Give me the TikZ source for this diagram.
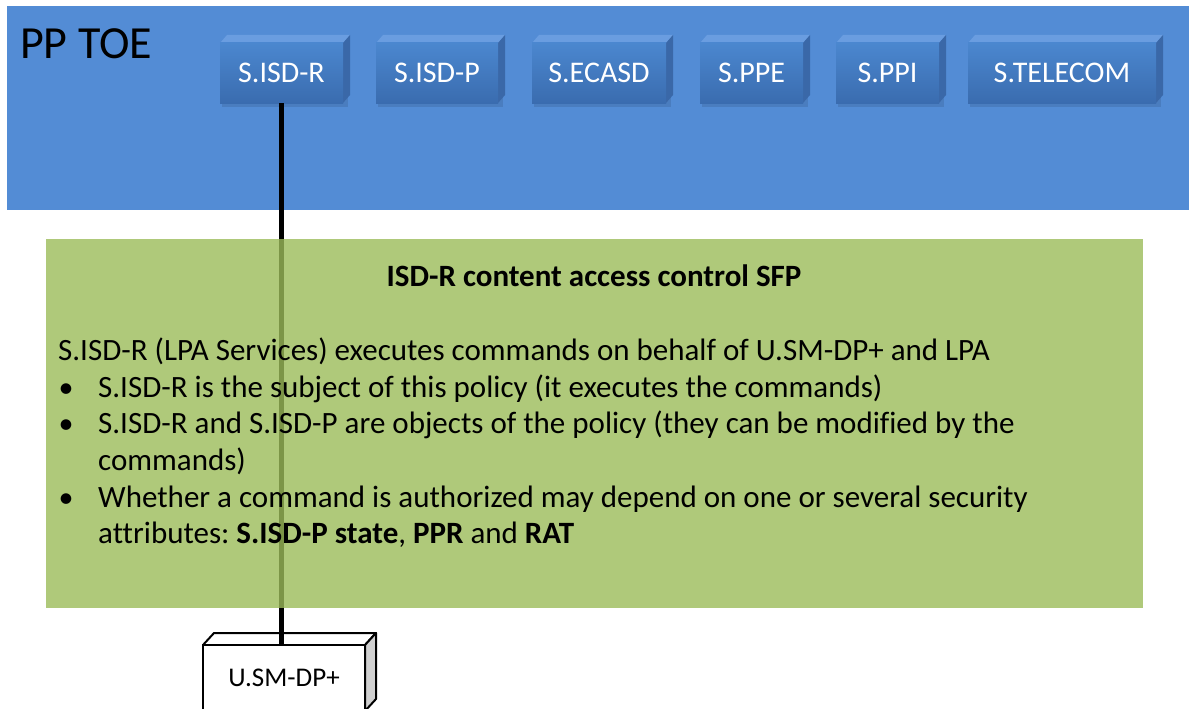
\documentclass[tikz,border=0pt]{standalone}
\usepackage{fontspec}
\setmainfont{Carlito}[Ligatures=NoCommon]
\frenchspacing

\definecolor{toeblue}{HTML}{538CD5}
\definecolor{cubefrontT}{HTML}{4B87CF}
\definecolor{cubefrontB}{HTML}{3A6CAF}
\definecolor{cubetop}{HTML}{6A9DE0}
\definecolor{cubeside}{HTML}{3A68A8}
\definecolor{sfpgreen}{HTML}{9BBB59}
\definecolor{sidegrey}{HTML}{D0D0D0}

\tikzset{
  cubeface/.style={rectangle, inner sep=0pt, minimum height=60pt,
    top color=cubefrontT, bottom color=cubefrontB, text=white,
    font=\fontsize{30}{36}\selectfont},
  bodytext/.style={anchor=base west, inner sep=0pt, font=\fontsize{31}{37}\selectfont},
  bulletmark/.style={anchor=base, inner sep=0pt, font=\fontsize{30}{36}\selectfont},
}

% a raised blue cube: name, left x, right x, label
\newcommand\toecube[4]{%
  \fill[black, opacity=0.10] (#2+2,46) rectangle (#3+5,107);
  \fill[cubetop] (#2,43) -- (#2+7,35) -- (#3+7,35) -- (#3,43) -- cycle;
  \fill[cubeside] (#3,43) -- (#3+7,35) -- (#3+7,95) -- (#3,103) -- cycle;
  \node[cubeface, minimum width={#3pt-#2pt}] (#1) at ({(#2+#3)/2},73) {#4};
}

\begin{document}
\begin{tikzpicture}[x=1pt, y=-1pt]
\useasboundingbox (0,0) rectangle (1189,709);

% TOE area
\node[fill=toeblue, inner sep=0pt, minimum width=1182pt, minimum height=204pt] (toe) at (598,108) {};
\node[anchor=base west, inner sep=0pt, font=\fontsize{46}{52}\selectfont] (toelabel) at (20,59) {PP TOE};

\toecube{isdr}{220}{343}{S.ISD-R}
\toecube{isdp}{376}{498}{S.ISD-P}
\toecube{ecasd}{532}{666}{S.ECASD}
\toecube{ppe}{700}{803}{S.PPE}
\toecube{ppi}{836}{939}{S.PPI}
\toecube{telecom}{968}{1156}{S.TELECOM}

% external entity
\draw[line width=2pt, line join=round, fill=white] (203,645) -- (214,633) -- (376,633) -- (365,645) -- cycle;
\draw[line width=2pt, line join=round, fill=sidegrey] (365,645) -- (376,633) -- (376,699) -- (365,711) -- cycle;
\node[draw, line width=2pt, fill=white, inner sep=0pt, minimum width=162pt, minimum height=66pt,
  font=\fontsize{27}{32}\selectfont] (smdp) at (284,678) {U.SM-DP+};

% link between subject and external entity
\draw[line width=4.5pt] (isdr.south) -- (isdr.south |- smdp.north);

% SFP panel
\node[fill=sfpgreen, fill opacity=0.8, inner sep=0pt, minimum width=1097pt, minimum height=369pt] (sfp) at (594.5,423.5) {};
\node[anchor=base, inner sep=0pt, font=\fontsize{31}{37}\selectfont\bfseries] (title) at (594,286) {ISD-R content access control SFP};

\node[bodytext] (l1) at (58,360) {S.ISD-R (LPA Services) executes commands on behalf of U.SM-DP+ and LPA};
\node[bulletmark] (b1) at (66,397) {•};
\node[bodytext] (l2) at (98,397) {S.ISD-R is the subject of this policy (it executes the commands)};
\node[bulletmark] (b2) at (66,433) {•};
\node[bodytext] (l3) at (98,433) {S.ISD-R and S.ISD-P are objects of the policy (they can be modified by the};
\node[bodytext] (l4) at (98,470) {commands)};
\node[bulletmark] (b3) at (66,507) {•};
\node[bodytext] (l5) at (98,507) {Whether a command is authorized may depend on one or several security};
\node[bodytext] (l6) at (98,543) {attributes: \textbf{S.ISD-P state}, \textbf{PPR} and \textbf{RAT}};
\end{tikzpicture}
\end{document}
